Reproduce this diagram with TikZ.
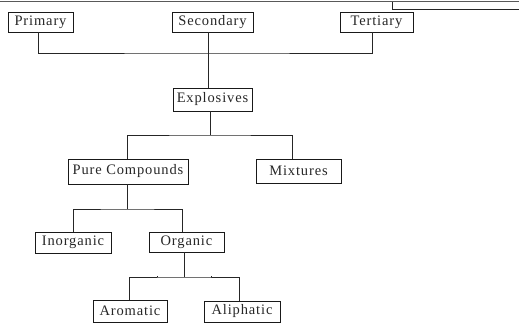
\documentclass[tikz,border=0pt]{standalone}
\usepackage{fontspec}
\setmainfont{Liberation Serif}[LetterSpace=6]
\begin{document}
\begin{tikzpicture}[x=1pt,y=-1pt,
  box/.style={draw=black!90,line width=0.9pt,inner sep=0pt,minimum height=#1,
    font=\fontsize{14.5}{16}\selectfont,text=black!85},
  box/.default=20pt,
  conn/.style={draw=black!85,line width=0.9pt},
  topline/.style={draw=black!65,line width=1.8pt}]
\useasboundingbox (0,0) rectangle (519,323);
% page-edge lines at the top
\coordinate (tl) at (0,1.5);
\coordinate (tr) at (519,1.5);
\coordinate (ca) at (392.5,2);
\coordinate (cb) at (519,9);
\draw[topline] (tl) -- (tr);
\draw[conn] (ca) |- (cb);
% boxes
\node[box,minimum width=65pt] (prim) at (40.5,22) {Primary};
\node[box,minimum width=81pt] (sec) at (212.5,22) {Secondary};
\node[box,minimum width=73pt] (ter) at (376.5,22) {\raisebox{1.5pt}{Tertiary}};
\node[box=23pt,minimum width=79pt] (exp) at (212.5,99.5) {Explosives};
\node[box=25pt,minimum width=120pt] (pure) at (128,171.5) {Pure Compounds};
\node[box=24pt,minimum width=85pt] (mix) at (298.5,171) {Mixtures};
\node[box=21pt,minimum width=76pt] (inorg) at (73,242.5) {Inorganic};
\node[box=20pt,minimum width=75pt] (org) at (186.5,242) {\raisebox{2pt}{Organic}\hspace{12pt}};
\node[box=22pt,minimum width=74pt] (arom) at (130,311) {\raisebox{1pt}{Aromatic}\hspace{8pt}};
\node[box=21pt,minimum width=76pt] (aliph) at (242,311.5) {Aliphatic};
% connectors
\coordinate (b1) at (208.5,53);
\draw[conn] ([xshift=-2.5pt]prim.south) |- (b1) -| ([xshift=-4.5pt]ter.south);
\draw[conn] ([xshift=-4pt]sec.south) -- ([xshift=-4pt]exp.north);
\coordinate (b2) at (210,135);
\draw[conn] ([xshift=-2.5pt]exp.south) -- (b2);
\draw[conn] ([xshift=-1pt]pure.north) |- (b2) -| ([xshift=-6.5pt]mix.north);
\coordinate (b3) at (127,209);
\draw[conn] ([xshift=-1pt]pure.south) -- (b3);
\draw[conn] (inorg.north) |- (b3) -| ([xshift=-4.5pt]org.north);
\coordinate (b4) at (184,277);
\draw[conn] ([xshift=-2.5pt]org.south) -- (b4);
\draw[conn] ([xshift=-1pt]arom.north) |- (b4) -| ([xshift=-3pt]aliph.north);
\coordinate (t1) at (157,277);
\coordinate (t2) at (211,277);
\draw[conn,line width=0.6pt] (t1) -- ++(0,-1.5);
\draw[conn,line width=0.6pt] (t2) -- ++(0,-1.5);
\end{tikzpicture}
\end{document}
